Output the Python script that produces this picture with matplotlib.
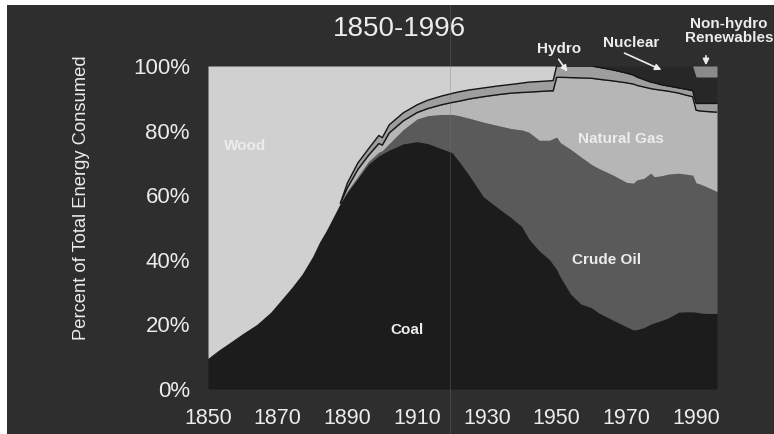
import numpy as np
import matplotlib.pyplot as plt

# shares of total energy consumed (%)
years = [1850, 1853, 1856, 1860, 1864, 1868, 1871, 1874, 1877, 1880,
         1882, 1884, 1886, 1888, 1890, 1893, 1896, 1899, 1900, 1902,
         1906, 1910, 1913, 1917, 1920, 1922, 1925, 1929, 1933, 1937,
         1940, 1942, 1945, 1948, 1949, 1950, 1951, 1954, 1957, 1960,
         1962, 1966, 1970, 1972, 1973, 1975, 1977, 1978, 1980, 1982,
         1985, 1987, 1989, 1990, 1991, 1993, 1996]

coal = [9.5, 12.0, 14.2, 17.2, 20.0, 23.8, 27.6, 31.4, 35.6, 41.0,
        45.5, 49.2, 53.4, 57.6, 61.0, 65.2, 69.6, 72.2, 72.8, 74.0,
        75.9, 76.6, 76.0, 74.4, 73.2, 70.5, 66.0, 59.5, 56.2, 53.0,
        50.3, 46.5, 42.8, 40.0, 38.5, 37.0, 34.8, 29.4, 26.3, 25.2,
        23.6, 21.4, 19.3, 18.3, 18.4, 19.0, 20.1, 20.5, 21.2, 22.0,
        23.8, 23.9, 23.9, 23.8, 23.6, 23.4, 23.4]

crude_oil = [0, 0, 0, 0, 0, 0, 0, 0, 0, 0,
             0, 0, 0, 0, 0.3, 0.6, 0.8, 1.1, 1.0, 2.0,
             4.4, 7.0, 8.6, 10.6, 11.8, 14.1, 17.8, 23.1, 25.4, 27.6,
             29.9, 33.0, 34.2, 37.0, 39.0, 41.0, 41.5, 44.8, 45.5, 44.3,
             44.7, 44.9, 44.7, 45.4, 46.3, 46.2, 46.7, 45.2, 44.8, 44.5,
             43.0, 42.6, 42.3, 40.0, 39.9, 39.2, 37.7]

natural_gas = [0, 0, 0, 0, 0, 0, 0, 0, 0, 0,
               0, 0, 0, 0, 1.0, 2.2, 1.9, 2.7, 1.7, 3.3,
               2.7, 2.0, 2.2, 3.0, 3.7, 4.5, 6.0, 7.9, 9.5, 11.0,
               11.6, 12.4, 15.1, 15.3, 14.8, 18.5, 20.2, 22.2, 24.5, 26.7,
               27.6, 29.1, 30.8, 30.7, 29.3, 28.3, 26.2, 27.1, 26.5, 25.7,
               24.8, 24.5, 24.3, 22.5, 22.6, 23.3, 24.6]

hydro = [0, 0, 0, 0, 0, 0, 0, 0, 0, 0,
         0, 0, 0, 0, 1.5, 2.0, 2.0, 2.5, 2.3, 2.5,
         2.5, 2.4, 2.6, 2.7, 2.8, 2.9, 2.8, 2.7, 2.7, 2.7,
         2.9, 3.1, 3.1, 3.1, 3.2, 3.5, 3.5, 3.6, 3.7, 3.8,
         3.7, 3.4, 3.0, 2.8, 2.6, 2.3, 2.0, 2.0, 1.7, 1.6,
         1.6, 1.8, 1.9, 2.1, 2.3, 2.5, 2.7]

nuclear = [0] * 40 + [0.4, 1.2, 2.2, 2.8, 3.4, 4.2, 5.0, 5.2, 5.8, 6.2,
                      6.8, 7.2, 7.6, 8.2, 8.2, 8.2, 8.2]

renewables = [0] * 53 + [3.4, 3.4, 3.4, 3.4]

wood = [90.5, 88.0, 85.8, 82.8, 80.0, 76.2, 72.4, 68.6, 64.4, 59.0,
        54.5, 50.8, 46.6, 42.4, 36.2, 30.0, 25.7, 21.5, 22.2, 18.2,
        14.5, 12.0, 10.6, 9.3, 8.5, 8.0, 7.4, 6.8, 6.2, 5.7,
        5.3, 5.0, 4.8, 4.6, 4.5] + [0] * 22

bg = '#2e2e2e'
txt = '#ececec'

fig = plt.figure(figsize=(7.74, 4.34), dpi=100, facecolor='white')
# dark scanned panel, kept behind the axes
fig.patches.append(plt.Rectangle((7 / 774, 0), 1, 1 - 5 / 434, transform=fig.transFigure,
                                 facecolor=bg, edgecolor='none', zorder=-10))

ax = fig.add_axes([208 / 774, 1 - 389 / 434, 509 / 774, 323 / 434])
ax.set_facecolor(bg)

x = np.array(years)
layers = [coal, crude_oil, natural_gas, hydro, nuclear, renewables, wood]
colors = ['#1c1c1c', '#5a5a5a', '#b6b6b6', '#9e9e9e', '#272727', '#8a8a8a', '#d0d0d0']
base = np.zeros(len(x))
tops = []
for vals, c in zip(layers, colors):
    top = base + np.array(vals)
    ax.fill_between(x, base, top, color=c, lw=0, zorder=2)
    tops.append(top)
    base = top

# black outlines of the hydro band
start = years.index(1888)
ax.plot(x[start:], tops[2][start:], color='#141414', lw=1.0, zorder=3)
ax.plot(x[start:], tops[3][start:], color='#141414', lw=1.0, zorder=3)

ax.set_xlim(1850, 1996)
ax.set_ylim(0, 100)
for s in ax.spines.values():
    s.set_visible(False)

ax.set_xticks(range(1850, 1991, 20))
ax.set_xticklabels([str(y) for y in range(1850, 1991, 20)],
                   family='Liberation Sans', fontsize=15.5, color=txt)
ax.set_yticks(range(0, 101, 20))
ax.set_yticklabels([f'{v}%' for v in range(0, 101, 20)],
                   family='Liberation Sans', fontsize=16, color=txt)
ax.tick_params(axis='both', length=0)
ax.tick_params(axis='y', pad=13)
ax.tick_params(axis='x', pad=14)

fig.text(82 / 774, 1 - 198 / 434, 'Percent of Total Energy Consumed', rotation=90,
         ha='center', va='center', fontsize=13.2, color=txt, family='Liberation Sans')
fig.text(399 / 774, 1 - 29 / 434, '1850-1996', ha='center', va='center', fontsize=20,
         color=txt, family='Liberation Sans')

lab = dict(fontsize=11, fontweight='bold', color=txt, family='Liberation Sans',
           ha='center', va='center')
fig.text(245 / 774, 1 - 146 / 434, 'Wood', **lab)
fig.text(407 / 774, 1 - 330 / 434, 'Coal', **lab)
fig.text(607 / 774, 1 - 260 / 434, 'Crude Oil', **lab)
fig.text(621 / 774, 1 - 139 / 434, 'Natural Gas', **lab)
fig.text(559 / 774, 1 - 49 / 434, 'Hydro', **lab)
fig.text(631 / 774, 1 - 43 / 434, 'Nuclear', **lab)
fig.text(729 / 774, 1 - 31 / 434, 'Non-hydro\nRenewables', linespacing=1.0, **lab)

arr = dict(arrowstyle='-|>', color=txt, lw=1.2, mutation_scale=9)
ax.annotate('', xy=(569, 434 - 74), xytext=(557, 434 - 57), xycoords='figure pixels',
            textcoords='figure pixels', arrowprops=arr)
ax.annotate('', xy=(664, 434 - 71), xytext=(622, 434 - 52), xycoords='figure pixels',
            textcoords='figure pixels', arrowprops=arr)
ax.annotate('', xy=(706, 434 - 68), xytext=(706, 434 - 53), xycoords='figure pixels',
            textcoords='figure pixels', arrowprops=arr)

# faint fold line from the scan
fig.add_artist(plt.Line2D([450 / 774, 450 / 774], [0, 1 - 5 / 434], transform=fig.transFigure,
                          color='#777777', lw=0.6, alpha=0.4, zorder=5))

fig.savefig('out.png', dpi=100, facecolor=fig.get_facecolor())
